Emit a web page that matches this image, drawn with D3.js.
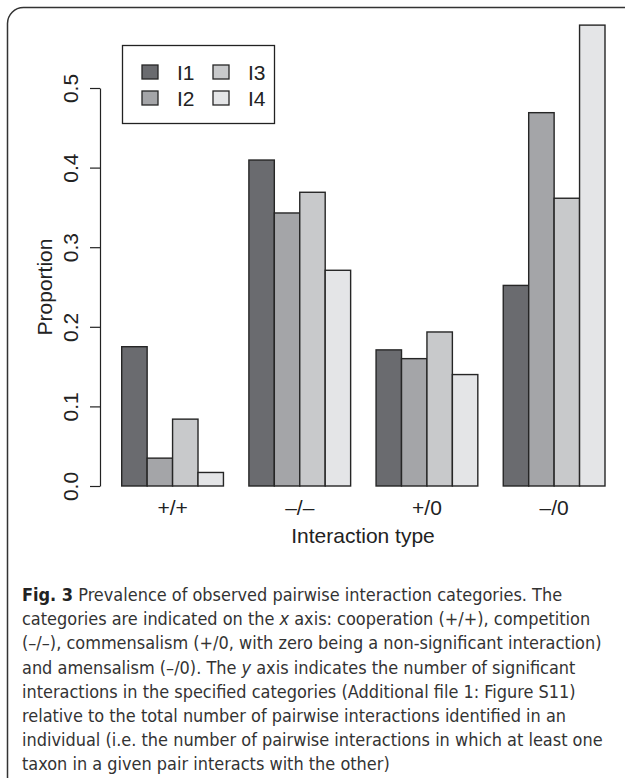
<!DOCTYPE html>
<html><head><meta charset="utf-8">
<script src="https://cdn.jsdelivr.net/npm/d3@7"></script>
<style>body{margin:0;background:#fff}svg{display:block}</style>
</head><body>
<svg id="c" width="625" height="778"></svg>
<script>
const categories = ["+/+", "–/–", "+/0", "–/0"];
const seriesNames = ["I1", "I2", "I3", "I4"];
const I1 = [0.175, 0.4095, 0.171, 0.252];
const I2 = [0.035, 0.343, 0.160, 0.469];
const I3 = [0.084, 0.369, 0.1935, 0.3615];
const I4 = [0.017, 0.271, 0.140, 0.579];
const seriesColors = ["#6a6b6f", "#a4a5a8", "#c8c9cb", "#e4e5e7"];
const yTicks = [0, 0.1, 0.2, 0.3, 0.4, 0.5];
const yLabel = "Proportion";
const xLabel = "Interaction type";
const captionLines = [
  [["Fig. 3", "b"], [" Prevalence of observed pairwise interaction categories. The", ""]],
  [["categories are indicated on the ", ""], ["x", "i"], [" axis: cooperation (+/+), competition", ""]],
  [["(–/–), commensalism (+/0, with zero being a non-significant interaction)", ""]],
  [["and amensalism (–/0). The ", ""], ["y", "i"], [" axis indicates the number of significant", ""]],
  [["interactions in the specified categories (Additional file 1: Figure S11)", ""]],
  [["relative to the total number of pairwise interactions identified in an", ""]],
  [["individual (i.e. the number of pairwise interactions in which at least one", ""]],
  [["taxon in a given pair interacts with the other)", ""]]
];
const captionMaxWidth = 581;

const values = [I1, I2, I3, I4];
const svg = d3.select("#c");
const font = "'Liberation Sans', Arial, Helvetica, sans-serif";

// frame
svg.append("rect").attr("x", 7.5).attr("y", 7.5).attr("width", 640).attr("height", 785)
  .attr("rx", 16).attr("fill", "none").attr("stroke", "#333").attr("stroke-width", 1.5);

const y = d3.scaleLinear().domain([0, 0.5]).range([486, 88]);
const x0 = d3.scaleBand().domain(categories).range([121.7, 605]).paddingInner(0.2).paddingOuter(0);
const x1 = d3.scaleBand().domain(seriesNames).range([0, x0.bandwidth()]);

const g = svg.append("g");
categories.forEach((cat, ci) => {
  const grp = g.append("g").attr("transform", `translate(${x0(cat)},0)`);
  grp.selectAll("rect").data(seriesNames.map((s, si) => ({s, si, v: values[si][ci]})))
    .join("rect")
    .attr("x", d => x1(d.s)).attr("width", x1.bandwidth())
    .attr("y", d => y(d.v)).attr("height", d => y(0) - y(d.v))
    .attr("fill", d => seriesColors[d.si]).attr("stroke", "#262626").attr("stroke-width", 1.4);
});

// y axis
const yAxis = d3.axisLeft(y).tickValues(yTicks).tickFormat(d3.format(".1f")).tickSize(10).tickSizeOuter(0);
const ya = svg.append("g").attr("transform", "translate(100,0)").call(yAxis);
ya.select(".domain").attr("stroke", "#222").attr("stroke-width", 1.2);
ya.selectAll(".tick line").attr("stroke", "#222").attr("stroke-width", 1.2);
ya.selectAll(".tick text").attr("font-family", font).attr("font-size", 21).attr("fill", "#222")
  .attr("transform", "rotate(-90)").attr("x", 0).attr("y", -22).attr("dy", 0)
  .attr("text-anchor", "middle");

svg.append("text").attr("transform", "translate(52,287) rotate(-90)")
  .attr("text-anchor", "middle").attr("font-family", font).attr("font-size", 21).attr("fill", "#222")
  .text(yLabel);

// x labels
svg.append("g").selectAll("text").data(categories).join("text")
  .attr("x", d => x0(d) + x0.bandwidth() / 2).attr("y", 515)
  .attr("text-anchor", "middle").attr("font-family", font).attr("font-size", 21).attr("fill", "#222")
  .text(d => d);
svg.append("text").attr("x", 363).attr("y", 543).attr("text-anchor", "middle")
  .attr("font-family", font).attr("font-size", 21).attr("fill", "#222").text(xLabel);

// legend
const lg = svg.append("g");
lg.append("rect").attr("x", 122.5).attr("y", 45.5).attr("width", 152).attr("height", 78)
  .attr("fill", "#fff").attr("stroke", "#222").attr("stroke-width", 1.3);
const legPos = [[150, 72], [150, 98], [221, 72], [221, 98]];
seriesNames.forEach((s, i) => {
  const [cx, cy] = legPos[i];
  lg.append("rect").attr("x", cx - 8).attr("y", cy - 7).attr("width", 16).attr("height", 14)
    .attr("fill", seriesColors[i]).attr("stroke", "#262626").attr("stroke-width", 1.3);
  lg.append("text").attr("x", cx + 27).attr("y", cy + 8).attr("font-family", font)
    .attr("font-size", 21).attr("fill", "#222").text(s);
});

// caption: pick a narrow font if installed, fit size so the widest line matches
function installed(name) {
  const cv = document.createElement("canvas").getContext("2d");
  const s = "abcdefghijklmnopqrstuvwxyz ABCDEFGHIJ 0123456789";
  cv.font = "40px monospace"; const a = cv.measureText(s).width;
  cv.font = `40px '${name}', monospace`; const b = cv.measureText(s).width;
  return Math.abs(a - b) > 1;
}
const capCandidates = ["Liberation Sans Narrow", "DejaVu Sans Condensed", "Open Sans"];
const capFont = capCandidates.find(installed) || "sans-serif";
const cap = svg.append("g");
const baseSize = 20;
const texts = captionLines.map((line, li) => {
  const t = cap.append("text").attr("x", 22).attr("y", 601 + li * 24.2)
    .attr("font-family", `'${capFont}', sans-serif`).attr("font-size", baseSize)
    .attr("fill", "#333");
  line.forEach(([txt, st]) => {
    const ts = t.append("tspan").text(txt);
    if (st === "b") ts.attr("font-weight", "bold").attr("fill", "#222");
    if (st === "i") ts.attr("font-style", "italic");
  });
  return t;
});
const maxW = d3.max(texts, t => t.node().getComputedTextLength());
const fit = captionMaxWidth / maxW;
texts.forEach(t => t.attr("font-size", (baseSize * fit).toFixed(2)));
</script>
</body></html>
